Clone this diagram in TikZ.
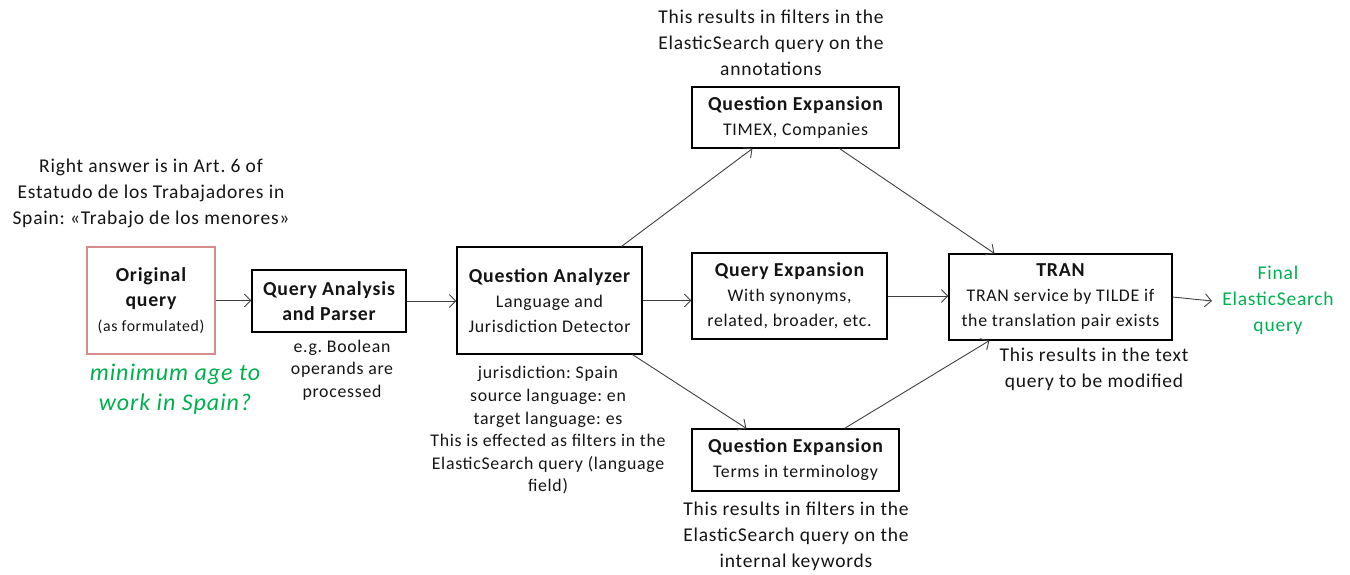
\documentclass[tikz,border=0pt]{standalone}
\usepackage{fontspec}
\setmainfont{Carlito}[LetterSpace=4]
\usetikzlibrary{arrows.meta,calc}
\definecolor{txtgreen}{RGB}{0,176,80}
\definecolor{boxred}{RGB}{214,140,138}
\definecolor{linegray}{RGB}{64,64,64}
\definecolor{txtdark}{RGB}{20,20,20}
\newcommand\boxtitle[1]{{\bfseries\fontsize{19.8}{25}\selectfont #1}}
\frenchspacing
\begin{document}
\begin{tikzpicture}[x=1pt,y=-1pt,
  box/.style={draw=black,line width=1.1pt,align=center,inner sep=0pt,text=txtdark,font=\fontsize{17.8}{25}\selectfont},
  conn/.style={draw=linegray,line width=0.9pt,-{Straight Barb[length=6.5pt,width=13pt]}},
  note/.style={align=center,text=txtdark,font=\fontsize{19.5}{26}\selectfont},
  smallnote/.style={align=center,text=txtdark,font=\fontsize{17.8}{22.6}\selectfont},
  greennote/.style={align=center,text=txtgreen,font=\fontsize{19.5}{26}\selectfont}]
\useasboundingbox (0,0) rectangle (1350,574);
% boxes
\node[box,draw=boxred,minimum width=128,minimum height=107] (orig) at (151,300.5)
  {\boxtitle{Original}\\\boxtitle{query}\\{\fontsize{15.8}{20}\selectfont (as formulated)}};
\node[box,minimum width=154,minimum height=62] (qap) at (329,301)
  {\boxtitle{Query Analysis}\\\boxtitle{and Parser}};
\node[box,minimum width=185,minimum height=107] (qa) at (549.5,300.5)
  {\boxtitle{Question Analyzer}\\Language and\\Jurisdiction Detector};
\node[box,minimum width=207,minimum height=61] (qe1) at (795.5,117.5)
  {\boxtitle{Question Expansion}\\TIMEX, Companies};
\node[box,minimum width=195,minimum height=86] (qe2) at (789.5,296)
  {\boxtitle{Query Expansion}\\With synonyms,\\related, broader, etc.};
\node[box,minimum width=207,minimum height=62] (qe3) at (795.5,460)
  {\boxtitle{Question Expansion}\\Terms in terminology};
\node[box,minimum width=223,minimum height=86] (tran) at (1060.5,297)
  {\boxtitle{TRAN}\\TRAN service by TILDE if\\the translation pair exists};
% annotations
\node[note] (ans) at (151,193) {Right answer is in Art. 6 of\\Estatudo de los Trabajadores in\\Spain: «Trabajo de los menores»};
\node[greennote,font=\fontsize{24}{30}\selectfont\itshape] (ex) at (175,389) {minimum age to\\work in Spain?};
\node[smallnote] (qapnote) at (342,370) {e.g. Boolean\\operands are\\processed};
\node[smallnote] (qanote) at (548,430.5) {jurisdiction: Spain\\source language: en\\target language: es\\This is effected as filters in the\\ElasticSearch query (language\\field)};
\node[note] (qe1note) at (771,43) {This results in filters in the\\ElasticSearch query on the\\annotations};
\node[note] (qe3note) at (796,536) {This results in filters in the\\ElasticSearch query on the\\internal keywords};
\node[note] (trannote) at (1094,369.5) {This results in the text\\query to be modified};
\node[greennote] (final) at (1278,300) {Final\\ElasticSearch\\query};
\coordinate (fin) at (1212,301);
% connectors
\draw[conn] (orig.east) -- (orig.east -| qap.west);
\draw[conn] (qap.east) -- (qap.east -| qa.west);
\draw[conn] (qa.east) -- (qa.east -| qe2.west);
\draw[conn] ([xshift=165]qa.north west) -- ([xshift=61]qe1.south west);
\draw[conn] ([xshift=176]qa.south west) -- ([xshift=55]qe3.north west);
\draw[conn] ([xshift=148]qe1.south west) -- ([xshift=46]tran.north west);
\draw[conn] (qe2.east) -- (qe2.east -| tran.west);
\draw[conn] ([xshift=153]qe3.north west) -- ([xshift=41]tran.south west);
\draw[conn] (tran.east) -- (fin);
\end{tikzpicture}
\end{document}
